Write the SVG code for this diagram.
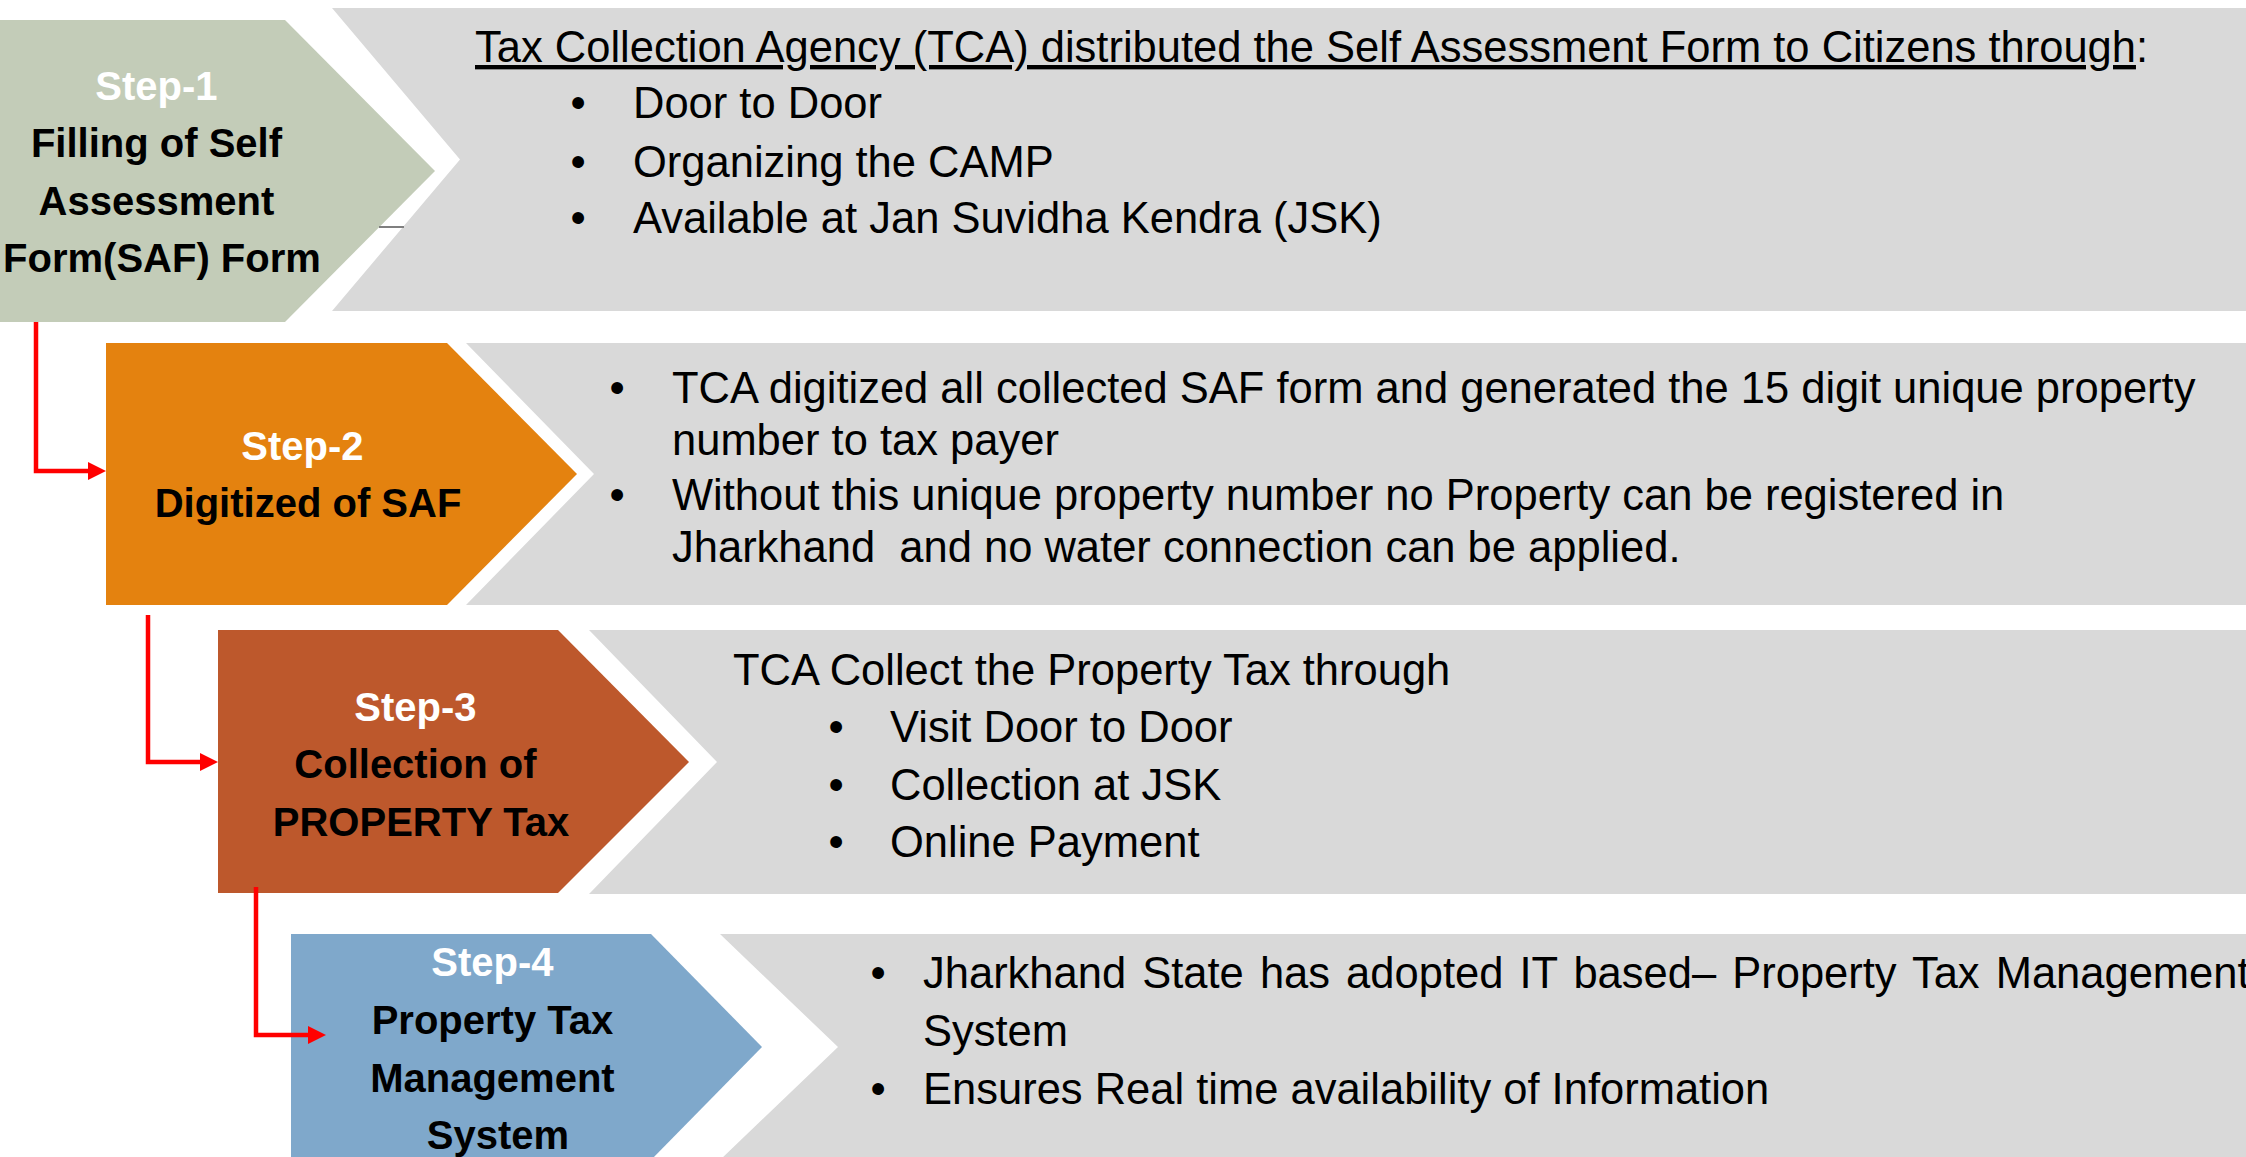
<svg xmlns="http://www.w3.org/2000/svg" width="2246" height="1157" viewBox="0 0 2246 1157">
  <style>
    .panel { fill: #D9D9D9; }
    .step { font-family: "Liberation Sans", Arial, sans-serif; font-weight: bold; font-size: 40px; text-anchor: middle; fill: #000000; }
    .step .num { fill: #FFFFFF; }
    .body { font-family: "Liberation Sans", Arial, sans-serif; font-size: 43.5px; fill: #000000; }
    .bul { font-family: "Liberation Sans", Arial, sans-serif; font-size: 43.5px; fill: #000000; text-anchor: middle; }
    .wire { fill: none; stroke: #FF0000; stroke-width: 4.5; stroke-linejoin: miter; }
  </style>
  <defs>
    <marker id="redHead" viewBox="0 0 18 18" markerUnits="userSpaceOnUse" markerWidth="18" markerHeight="18" refX="8" refY="9" orient="auto">
      <path d="M0,0 L18,9 L0,18 Z" fill="#FF0000"/>
    </marker>
  </defs>

  <rect width="2246" height="1157" fill="#FFFFFF"/>

  <!-- Step 1: filling of the self assessment form -->
  <g id="step1">
    <polygon class="panel" points="332,8 2246,8 2246,311 332,311 460,159.5"/>
    <polygon points="0,20 285,20 435,171 285,322 0,322" fill="#C3CCB8"/>
    <line x1="379" y1="227" x2="404" y2="227" stroke="#7F7F7F" stroke-width="2"/>
    <text class="step">
      <tspan class="num" x="162" y="100">Step-1</tspan>
      <tspan x="162" y="157">Filling of Self</tspan>
      <tspan x="162" y="215">Assessment</tspan>
      <tspan x="162" y="272">Form(SAF) Form</tspan>
    </text>
    <text class="body" x="475" y="62"><tspan text-decoration="underline">Tax Collection Agency (TCA) distributed the Self Assessment Form to Citizens through</tspan>:</text>
    <text class="bul" x="578" y="118">•</text>
    <text class="bul" x="578" y="177">•</text>
    <text class="bul" x="578" y="233">•</text>
    <text class="body" x="633" y="118">Door to Door</text>
    <text class="body" x="633" y="177">Organizing the CAMP</text>
    <text class="body" x="633" y="233">Available at Jan Suvidha Kendra (JSK)</text>
  </g>

  <!-- Step 2: digitization -->
  <g id="step2">
    <polygon class="panel" points="466,343 2246,343 2246,605 466,605 594,474"/>
    <polygon points="106,343 447,343 577,474 447,605 106,605" fill="#E4820F"/>
    <text class="step">
      <tspan class="num" x="308" y="460">Step-2</tspan>
      <tspan x="308" y="517">Digitized of SAF</tspan>
    </text>
    <text class="bul" x="617" y="403">•</text>
    <text class="bul" x="617" y="510">•</text>
    <text class="body" x="672" y="403">TCA digitized all collected SAF form and generated the 15 digit unique property</text>
    <text class="body" x="672" y="455">number to tax payer</text>
    <text class="body" x="672" y="510">Without this unique property number no Property can be registered in</text>
    <text class="body" x="672" y="562" xml:space="preserve">Jharkhand  and no water connection can be applied.</text>
  </g>

  <!-- Step 3: collection -->
  <g id="step3">
    <polygon class="panel" points="589,630 2246,630 2246,894 589,894 717,762"/>
    <polygon points="218,630 558,630 689,762 558,893 218,893" fill="#BD582C"/>
    <text class="step">
      <tspan class="num" x="421" y="721">Step-3</tspan>
      <tspan x="421" y="778">Collection of</tspan>
      <tspan x="421" y="836">PROPERTY Tax</tspan>
    </text>
    <text class="body" x="733" y="685">TCA Collect the Property Tax through</text>
    <text class="bul" x="836" y="742">•</text>
    <text class="bul" x="836" y="800">•</text>
    <text class="bul" x="836" y="857">•</text>
    <text class="body" x="890" y="742">Visit Door to Door</text>
    <text class="body" x="890" y="800">Collection at JSK</text>
    <text class="body" x="890" y="857">Online Payment</text>
  </g>

  <!-- Step 4: management system -->
  <g id="step4">
    <polygon class="panel" points="720,934 2246,934 2246,1160 720,1160 838,1047"/>
    <polygon points="291,934 651,934 762,1047 651,1160 291,1160" fill="#7FA8CB"/>
    <text class="step">
      <tspan class="num" x="498" y="976">Step-4</tspan>
      <tspan x="498" y="1034">Property Tax</tspan>
      <tspan x="498" y="1092">Management</tspan>
      <tspan x="498" y="1149">System</tspan>
    </text>
    <text class="bul" x="878" y="988">•</text>
    <text class="bul" x="878" y="1104">•</text>
    <text class="body" x="923" y="988" word-spacing="4">Jharkhand State has adopted IT based– Property Tax Management</text>
    <text class="body" x="923" y="1046">System</text>
    <text class="body" x="923" y="1104">Ensures Real time availability of Information</text>
  </g>

  <!-- Step-to-step connectors -->
  <g id="connectors">
    <path class="wire" d="M36,322 V471 H96" marker-end="url(#redHead)"/>
    <path class="wire" d="M148,615 V762 H208" marker-end="url(#redHead)"/>
    <path class="wire" d="M256,887 V1035 H316" marker-end="url(#redHead)"/>
  </g>
</svg>
